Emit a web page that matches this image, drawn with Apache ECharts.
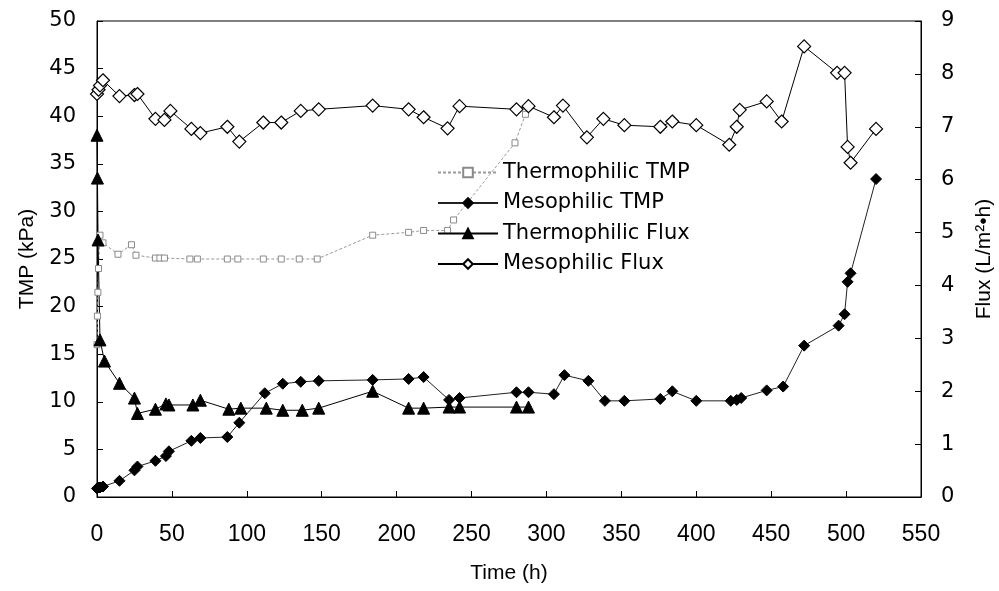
<!DOCTYPE html>
<html><head><meta charset="utf-8">
<script src="https://cdn.jsdelivr.net/npm/echarts@6/dist/echarts.min.js"></script>
<style>html,body{margin:0;padding:0;background:#fff}#c{width:999px;height:591px}</style>
</head><body><div id="c"></div>
<script>
// Thermophilic TMP (kPa, left axis)
const thermoTmpTime = [0, 0.3, 0.6, 1, 2, 4, 14, 23, 26, 39, 42, 45, 62, 67, 87, 94, 111, 123, 135, 147, 184, 208, 218, 234, 238, 279, 286];
const thermoTmpVal  = [16, 19, 21.5, 24, 27.5, 26.7, 25.5, 26.5, 25.4, 25.1, 25.1, 25.1, 25, 25, 25, 25, 25, 25, 25, 25, 27.5, 27.8, 28, 28, 29.1, 37.2, 40.2];
// Mesophilic TMP (kPa, left axis)
const mesoTmpTime = [0, 1, 2, 4, 15, 25, 27, 39, 46, 48, 63, 69, 87, 95, 112, 124, 136, 148, 184, 208, 218, 235, 242, 280, 288, 305, 312, 328, 339, 352, 376, 384, 400, 423, 427, 430, 447, 458, 472, 495, 499, 501, 503, 520];
const mesoTmpVal  = [0.9, 1.0, 1.0, 1.1, 1.7, 2.8, 3.2, 3.8, 4.3, 4.8, 5.9, 6.2, 6.3, 7.8, 10.9, 11.9, 12.1, 12.2, 12.3, 12.4, 12.6, 10.2, 10.4, 11.0, 11.0, 10.8, 12.8, 12.2, 10.1, 10.1, 10.3, 11.1, 10.1, 10.1, 10.2, 10.4, 11.2, 11.6, 15.9, 18.0, 19.2, 22.6, 23.5, 33.4];
// Thermophilic Flux (L/m2·h, right axis)
const thermoFluxTime = [0, 0.3, 0.7, 2, 5, 15, 25, 27, 39, 46, 48, 64, 69, 88, 96, 113, 124, 137, 148, 184, 208, 218, 235, 242, 280, 288];
const thermoFluxVal  = [6.84, 6.03, 4.86, 2.97, 2.57, 2.15, 1.87, 1.58, 1.66, 1.76, 1.74, 1.74, 1.83, 1.66, 1.68, 1.68, 1.64, 1.64, 1.68, 2.0, 1.68, 1.68, 1.70, 1.70, 1.70, 1.70];
// Mesophilic Flux (L/m2·h, right axis)
const mesoFluxTime = [0, 1, 2, 4, 15, 25, 27, 39, 45, 49, 63, 69, 87, 95, 111, 123, 136, 148, 184, 208, 218, 234, 242, 280, 288, 305, 311, 327, 338, 352, 376, 384, 400, 422, 427, 429, 447, 457, 472, 494, 499, 501, 503, 520];
const mesoFluxVal  = [7.62, 7.7, 7.78, 7.88, 7.58, 7.6, 7.62, 7.15, 7.13, 7.3, 6.96, 6.88, 7.0, 6.72, 7.08, 7.08, 7.3, 7.33, 7.4, 7.33, 7.18, 6.97, 7.39, 7.33, 7.39, 7.18, 7.4, 6.8, 7.15, 7.03, 7.0, 7.1, 7.03, 6.66, 7.0, 7.32, 7.48, 7.1, 8.52, 8.02, 8.02, 6.62, 6.32, 6.96];
// Axis ticks
const xTicks = {min: 0, max: 550, interval: 50};
const yLeftTicks = {min: 0, max: 50, interval: 5};
const yRightTicks = {min: 0, max: 9, interval: 1};

const pair = (t, v) => t.map((x, i) => [x, v[i]]);
const ARIAL = 'Liberation Sans, Arial, sans-serif';
const WIDE = 'DejaVu Sans, sans-serif';
const chart = echarts.init(document.getElementById('c'), null, {renderer: 'canvas'});
chart.setOption({
  animation: false,
  backgroundColor: '#fff',
  grid: {left: 97, right: 78, top: 21, bottom: 94, containLabel: false, outerBoundsMode: 'none',
         show: true, borderColor: '#000', borderWidth: 1, backgroundColor: 'transparent'},
  legend: {
    orient: 'vertical', left: 432, top: 157, itemWidth: 60, itemHeight: 12, itemGap: 9.5,
    textStyle: {fontFamily: WIDE, fontSize: 21, color: '#000'},
    data: ['Thermophilic TMP', 'Mesophilic TMP', 'Thermophilic Flux', 'Mesophilic Flux']
  },
  xAxis: {
    type: 'value', min: xTicks.min, max: xTicks.max, interval: xTicks.interval,
    name: 'Time (h)', nameLocation: 'middle', nameGap: 66,
    nameTextStyle: {fontFamily: ARIAL, fontSize: 21, color: '#000'},
    axisLine: {onZero: false, lineStyle: {color: '#000', width: 1}},
    axisTick: {inside: true, length: 6, lineStyle: {color: '#000'}},
    axisLabel: {fontFamily: ARIAL, fontSize: 23, color: '#000', margin: 26},
    splitLine: {show: false}
  },
  yAxis: [{
    type: 'value', min: yLeftTicks.min, max: yLeftTicks.max, interval: yLeftTicks.interval,
    name: 'TMP (kPa)', nameLocation: 'middle', nameGap: 59, nameRotate: 90,
    nameTextStyle: {fontFamily: ARIAL, fontSize: 21, color: '#000'},
    axisLine: {show: true, onZero: false, lineStyle: {color: '#000', width: 1}},
    axisTick: {show: true, inside: true, length: 6, lineStyle: {color: '#000'}},
    axisLabel: {fontFamily: WIDE, fontSize: 21, color: '#000', margin: 21},
    splitLine: {show: false}
  }, {
    type: 'value', min: yRightTicks.min, max: yRightTicks.max, interval: yRightTicks.interval,
    position: 'right',
    name: 'Flux (L/m²•h)', nameLocation: 'middle', nameGap: 53, nameRotate: 90,
    nameTextStyle: {fontFamily: ARIAL, fontSize: 21, color: '#000'},
    axisLine: {show: true, onZero: false, lineStyle: {color: '#000', width: 1}},
    axisTick: {show: true, inside: true, length: 6, lineStyle: {color: '#000'}},
    axisLabel: {fontFamily: WIDE, fontSize: 21, color: '#000', margin: 20},
    splitLine: {show: false}
  }],
  series: [{
    name: 'Thermophilic TMP', type: 'line', yAxisIndex: 0,
    data: pair(thermoTmpTime, thermoTmpVal),
    symbol: 'rect', symbolSize: 6, showSymbol: true,
    lineStyle: {color: '#9a9a9a', width: 1, type: [3, 2]},
    itemStyle: {color: '#fff', borderColor: '#8a8a8a', borderWidth: 1}
  }, {
    name: 'Mesophilic TMP', type: 'line', yAxisIndex: 0,
    data: pair(mesoTmpTime, mesoTmpVal),
    symbol: 'diamond', symbolSize: 11,
    lineStyle: {color: '#222', width: 1},
    itemStyle: {color: '#000', borderColor: '#000', borderWidth: 1}
  }, {
    name: 'Thermophilic Flux', type: 'line', yAxisIndex: 1,
    data: pair(thermoFluxTime, thermoFluxVal),
    symbol: 'triangle', symbolSize: 12,
    lineStyle: {color: '#000', width: 1},
    itemStyle: {color: '#000', borderColor: '#000', borderWidth: 1}
  }, {
    name: 'Mesophilic Flux', type: 'line', yAxisIndex: 1,
    data: pair(mesoFluxTime, mesoFluxVal),
    symbol: 'diamond', symbolSize: 13,
    lineStyle: {color: '#000', width: 1},
    itemStyle: {color: '#fff', borderColor: '#000', borderWidth: 1.2}
  }]
});
</script>
</body></html>
